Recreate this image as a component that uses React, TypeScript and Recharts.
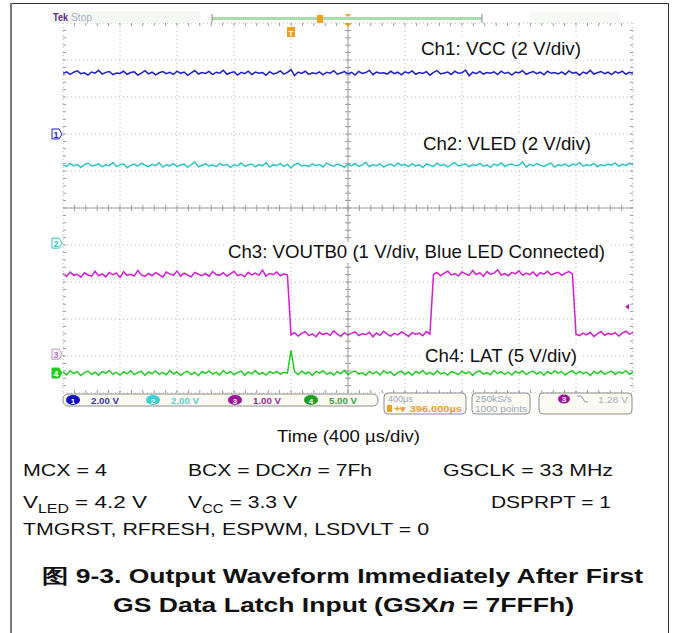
import React from "react";
import { ComposedChart, Line, Scatter, XAxis, YAxis, CartesianGrid, ReferenceLine } from "recharts";

// scope settings
const usPerDiv = 400;
const sampleStepUs = 25;
const triggerTimeUs = 1600;
const triggerLevelV = 1.28;

// Ch1: VCC, volts per sample
const ch1Volts = [
  3.28, 3.36, 3.22, 3.34, 3.41, 3.26, 3.31, 3.19, 3.35, 3.29,
  3.44, 3.24, 3.33, 3.38, 3.21, 3.30, 3.27, 3.39, 3.23, 3.32,
  3.36, 3.18, 3.29, 3.42, 3.25, 3.34, 3.20, 3.31, 3.37, 3.26,
  3.33, 3.22, 3.40, 3.28, 3.35, 3.17, 3.30, 3.43, 3.24, 3.32,
  3.27, 3.38, 3.21, 3.34, 3.29, 3.45, 3.23, 3.31, 3.36, 3.19,
  3.33, 3.26, 3.40, 3.22, 3.35, 3.28, 3.32, 3.18, 3.37, 3.25,
  3.30, 3.41, 3.24, 3.33, 3.48, 3.16, 3.35, 3.27, 3.39, 3.22,
  3.31, 3.26, 3.36, 3.20, 3.34, 3.29, 3.42, 3.23, 3.30, 3.37,
  3.25, 3.33, 3.19, 3.38, 3.27, 3.32, 3.44, 3.21, 3.35, 3.28,
  3.31, 3.24, 3.39, 3.26, 3.34, 3.20, 3.36, 3.29, 3.41, 3.23,
  3.32, 3.27, 3.37, 3.18, 3.33, 3.43, 3.25, 3.30, 3.35, 3.22,
  3.39, 3.28, 3.31, 3.46, 3.15, 3.34, 3.26, 3.38, 3.24, 3.32,
  3.29, 3.36, 3.21, 3.40, 3.27, 3.33, 3.19, 3.35, 3.30, 3.42,
  3.23, 3.31, 3.37, 3.26, 3.34, 3.20, 3.39, 3.28, 3.32, 3.25,
  3.36, 3.22, 3.41, 3.29, 3.33, 3.18, 3.35, 3.27, 3.44, 3.24,
  3.31, 3.38, 3.26, 3.34, 3.21, 3.37, 3.29, 3.40, 3.23, 3.33,
  3.28,
];

// Ch2: VLED
const ch2Volts = [
  4.22, 4.15, 4.31, 4.18, 4.26, 4.09, 4.24, 4.33, 4.17, 4.21,
  4.28, 4.12, 4.25, 4.19, 4.36, 4.14, 4.23, 4.29, 4.08, 4.20,
  4.27, 4.16, 4.32, 4.21, 4.13, 4.26, 4.19, 4.34, 4.11, 4.24,
  4.18, 4.30, 4.15, 4.22, 4.27, 4.10, 4.25, 4.38, 4.12, 4.21,
  4.29, 4.17, 4.23, 4.14, 4.31, 4.20, 4.26, 4.09, 4.24, 4.19,
  4.33, 4.16, 4.22, 4.28, 4.13, 4.25, 4.18, 4.35, 4.11, 4.23,
  4.20, 4.30, 4.15, 4.27, 4.06, 4.24, 4.32, 4.17, 4.21, 4.14,
  4.29, 4.19, 4.25, 4.12, 4.34, 4.22, 4.16, 4.28, 4.20, 4.10,
  4.26, 4.18, 4.31, 4.15, 4.23, 4.37, 4.13, 4.24, 4.19, 4.29,
  4.11, 4.22, 4.27, 4.16, 4.33, 4.20, 4.25, 4.14, 4.30, 4.18,
  4.23, 4.09, 4.28, 4.21, 4.15, 4.32, 4.19, 4.26, 4.12, 4.24,
  4.35, 4.17, 4.22, 4.29, 4.13, 4.25, 4.20, 4.31, 4.16, 4.23,
  4.10, 4.27, 4.19, 4.34, 4.14, 4.24, 4.28, 4.18, 4.21, 4.39,
  4.12, 4.26, 4.17, 4.30, 4.22, 4.15, 4.25, 4.33, 4.11, 4.23,
  4.19, 4.29, 4.14, 4.27, 4.21, 4.36, 4.16, 4.24, 4.20, 4.31,
  4.13, 4.25, 4.18, 4.28, 4.22, 4.34, 4.15, 4.26, 4.19, 4.32,
  4.23,
];

// Ch3: VOUTB0
const ch3Volts = [
  2.18, 2.10, 2.22, 2.13, 2.16, 2.08, 2.20, 2.14, 2.11, 2.24,
  2.12, 2.17, 2.09, 2.21, 2.15, 2.19, 2.07, 2.23, 2.13, 2.16,
  2.11, 2.26, 2.14, 2.10, 2.18, 2.12, 2.20, 2.15, 2.08, 2.22,
  2.17, 2.13, 2.25, 2.11, 2.19, 2.14, 2.09, 2.21, 2.16, 2.12,
  2.18, 2.10, 2.23, 2.15, 2.13, 2.20, 2.11, 2.17, 2.24, 2.12,
  2.16, 2.09, 2.21, 2.14, 2.19, 2.13, 2.27, 2.11, 2.18, 2.15,
  2.22, 2.12, 2.17, 2.14,
  0.52, 0.58, 0.49, 0.56, 0.61, 0.50, 0.55, 0.47, 0.59, 0.53,
  0.57, 0.51, 0.63, 0.54, 0.48, 0.58, 0.52, 0.56, 0.60, 0.50,
  0.55, 0.53, 0.59, 0.47, 0.57, 0.51, 0.62, 0.54, 0.49, 0.56,
  0.52, 0.60, 0.55, 0.48, 0.58, 0.53, 0.57, 0.50, 0.61, 0.54,
  2.16, 2.21, 2.12, 2.19, 2.24, 2.14, 2.18, 2.11, 2.22, 2.17,
  2.13, 2.26, 2.15, 2.20, 2.10, 2.23, 2.16, 2.19, 2.28, 2.14,
  2.18, 2.12, 2.21, 2.17, 2.25, 2.13, 2.19, 2.15, 2.22, 2.11,
  2.20, 2.16, 2.24, 2.14, 2.18, 2.21, 2.13, 2.19, 2.23, 2.17,
  0.54, 0.50, 0.57, 0.52, 0.59, 0.48, 0.55, 0.61, 0.51, 0.56,
  0.53, 0.58, 0.49, 0.57, 0.62, 0.54, 0.59,
];

// Ch4: LAT
const ch4Volts = [
  0.12, -0.25, 0.31, -0.08, 0.18, -0.34, 0.05, 0.27, -0.19, 0.10,
  -0.29, 0.22, -0.04, 0.35, -0.16, 0.08, -0.27, 0.19, -0.11, 0.30,
  -0.21, 0.03, 0.25, -0.32, 0.14, -0.07, 0.28, -0.18, 0.09, -0.24,
  0.33, -0.13, 0.16, -0.30, 0.06, 0.24, -0.20, 0.11, -0.36, 0.21,
  -0.05, 0.29, -0.15, 0.13, -0.26, 0.34, -0.09, 0.17, -0.22, 0.07,
  0.26, -0.31, 0.15, -0.12, 0.32, -0.17, 0.04, -0.28, 0.20, -0.06,
  0.23, -0.14, 0.10, -0.02, 3.05, 0.18, -0.23, 0.28, -0.10, 0.14,
  -0.33, 0.22, -0.03, 0.30, -0.19, 0.09, -0.26, 0.17, -0.08, 0.35,
  -0.21, 0.12, 0.27, -0.15, 0.05, -0.30, 0.24, -0.11, 0.19, -0.25,
  0.31, -0.06, 0.15, -0.34, 0.08, 0.26, -0.18, 0.13, -0.29, 0.21,
  -0.04, 0.33, -0.16, 0.10, -0.23, 0.29, -0.12, 0.06, -0.27, 0.18,
  0.02, -0.20, 0.25, -0.09, 0.16, -0.32, 0.11, 0.28, -0.14, 0.07,
  -0.24, 0.34, -0.07, 0.19, -0.17, 0.12, -0.28, 0.23, -0.05, 0.30,
  -0.22, 0.09, 0.26, -0.13, 0.14, -0.31, 0.20, -0.10, 0.27, -0.02,
  0.17, -0.26, 0.08, 0.32, -0.15, 0.22, -0.08, 0.13, -0.35, 0.24,
  -0.11, 0.29, -0.19, 0.06, 0.25, -0.21, 0.15, -0.04, 0.31, -0.16,
  0.10,
];

const divTicks = [0, 1, 2, 3, 4, 5, 6, 7, 8, 9, 10];
const minorDivs = [
  0.2, 0.4, 0.6, 0.8, 1, 1.2, 1.4, 1.6, 1.8, 2, 2.2, 2.4, 2.6, 2.8, 3, 3.2, 3.4, 3.6, 3.8, 4,
  4.2, 4.4, 4.6, 4.8, 5, 5.2, 5.4, 5.6, 5.8, 6, 6.2, 6.4, 6.6, 6.8, 7, 7.2, 7.4, 7.6, 7.8, 8,
  8.2, 8.4, 8.6, 8.8, 9, 9.2, 9.4, 9.6, 9.8,
];

const channels = [
  { id: 1, volts: ch1Volts, voltsPerDiv: 2, groundDiv: 7.0, color: "#1f1fc4", label: "2.00 V" },
  { id: 2, volts: ch2Volts, voltsPerDiv: 2, groundDiv: 4.05, color: "#2cc6c6", label: "2.00 V" },
  { id: 3, volts: ch3Volts, voltsPerDiv: 1, groundDiv: 1.05, color: "#d41cd4", label: "1.00 V" },
  { id: 4, volts: ch4Volts, voltsPerDiv: 5, groundDiv: 0.54, color: "#22cc22", label: "5.00 V" },
];

const toPoints = (ch) =>
  ch.volts.map((v, i) => ({ x: (i * sampleStepUs) / usPerDiv, y: ch.groundDiv + v / ch.voltsPerDiv }));

const FONT = "'Liberation Sans', Arial, sans-serif";
const tickColor = "#9a9a9a";

const tickV = (p) => <line x1={p.cx} x2={p.cx} y1={p.cy - 3} y2={p.cy + 3} stroke={tickColor} />;
const tickH = (p) => <line x1={p.cx - 3} x2={p.cx + 3} y1={p.cy} y2={p.cy} stroke={tickColor} />;
const tickDown = (p) => <line x1={p.cx} x2={p.cx} y1={p.cy} y2={p.cy + 3} stroke={tickColor} />;
const tickUp = (p) => <line x1={p.cx} x2={p.cx} y1={p.cy - 3} y2={p.cy} stroke={tickColor} />;
const tickRight = (p) => <line x1={p.cx} x2={p.cx + 3} y1={p.cy} y2={p.cy} stroke={tickColor} />;
const tickLeft = (p) => <line x1={p.cx - 3} x2={p.cx} y1={p.cy} y2={p.cy} stroke={tickColor} />;

const GroundMarker = (p) => {
  const ch = channels.find((c) => c.id === p.payload.id);
  const filled = ch.id === 4;
  const x = p.cx - 11;
  return (
    <g>
      <path
        d={`M${x},${p.cy - 5} h7 l3,5 l-3,5 h-7 z`}
        fill={filled ? ch.color : "#fff"}
        stroke={ch.id === 3 ? "#c08ac8" : ch.color}
        strokeWidth={1}
      />
      <text x={x + 4} y={p.cy + 3.5} fontSize={9} fontFamily={FONT} fontWeight="bold"
        textAnchor="middle" fill={filled ? "#fff" : ch.id === 3 ? "#b070c0" : ch.color}>
        {ch.id}
      </text>
    </g>
  );
};

const TriggerPosMarker = (p) => (
  <g>
    <rect x={p.cx - 4} y={p.cy + 4} width={8} height={10} fill="#f0a020" />
    <text x={p.cx} y={p.cy + 12.5} fontSize={8} fontFamily={FONT} fontWeight="bold" textAnchor="middle" fill="#fff">T</text>
  </g>
);

const TriggerLevelMarker = (p) => (
  <path d={`M${p.cx - 8},${p.cy} l4,-3 v6 z`} fill="#c020c0" />
);

const ChLabel = ({ x, y, w, text }) => (
  <g>
    <rect x={x - 3} y={y - 16} width={w + 6} height={21} fill="#fff" />
    <text x={x} y={y} fontSize={19} fill="#111" textLength={w} lengthAdjust="spacingAndGlyphs">{text}</text>
  </g>
);

const Readout = () => (
  <g fontFamily={FONT} fontWeight="bold" fontSize={9}>
    <rect x={63} y={394} width={315} height={12} rx={5} fill="#fbfbf3" stroke="#8a8a8a" />
    {channels.map((ch, i) => {
      const cx = [73, 153, 235, 311][i];
      return (
        <g key={ch.id}>
          <ellipse cx={cx} cy={400} rx={7} ry={5} fill={ch.id === 3 ? "#a0139f" : ch.id === 2 ? "#3cd2d2" : ch.id === 4 ? "#1f9f1f" : "#1010c0"} />
          <text x={cx} y={403.5} textAnchor="middle" fill="#fff" fontSize={8}>{ch.id}</text>
          <text x={cx + 18} y={404} fill={ch.id === 3 ? "#9a2a9a" : ch.id === 2 ? "#5ccccc" : ch.id === 4 ? "#3aa03a" : "#3434b0"}
            textLength={28} lengthAdjust="spacingAndGlyphs">{ch.label}</text>
        </g>
      );
    })}
    <rect x={384} y={393} width={82} height={21} rx={4} fill="#fbfbf3" stroke="#8a8a8a" />
    <text x={388} y={401.5} fill="#9aa6b8" fontWeight="normal">400µs</text>
    <rect x={387} y={405} width={5} height={7} fill="#f0a020" />
    <text x={394} y={412} fill="#e8a030" textLength={68} lengthAdjust="spacingAndGlyphs">+▾ 396.000µs</text>
    <rect x={472} y={393} width={58} height={21} rx={4} fill="#fbfbf3" stroke="#8a8a8a" />
    <text x={475} y={401.5} fill="#9aa6b8" fontWeight="normal" textLength={37} lengthAdjust="spacingAndGlyphs">250kS/s</text>
    <text x={475} y={411.5} fill="#9aa6b8" fontWeight="normal" textLength={52} lengthAdjust="spacingAndGlyphs">1000 points</text>
    <rect x={539} y={393} width={93} height={21} rx={4} fill="#fbfbf3" stroke="#8a8a8a" />
    <ellipse cx={564} cy={399} rx={6} ry={4.5} fill="#a0139f" />
    <text x={564} y={402} textAnchor="middle" fill="#fff" fontSize={8}>3</text>
    <path d="M577,396 h4 l4,6 h3" fill="none" stroke="#8a9ab0" strokeWidth={1} />
    <text x={598} y={402.5} fill="#a4aec0" fontWeight="normal" textLength={30} lengthAdjust="spacingAndGlyphs">1.28 V</text>
  </g>
);

const StatusBar = () => (
  <g fontFamily={FONT}>
    <rect x={50} y={11} width={150} height={12} fill="#f5f7f5" />
    <rect x={530} y={12} width={90} height={10} fill="#f6f8f6" />
    <text x={53} y={21} fontSize={10} fontWeight="bold" fill="#5a2a82" textLength={15} lengthAdjust="spacingAndGlyphs">Tek</text>
    <text x={71} y={21} fontSize={10} fill="#aab2c2" textLength={21} lengthAdjust="spacingAndGlyphs">Stop</text>
    <line x1={212} x2={482} y1={18.5} y2={18.5} stroke="#a8dca8" strokeWidth={3} />
    <line x1={212} x2={212} y1={14} y2={23} stroke="#888" />
    <line x1={482} x2={482} y1={14} y2={23} stroke="#888" />
    <rect x={317} y={15} width={6} height={8} fill="#f0a020" />
    <path d="M345,14 h6 l-3,3 z" fill="#f0a020" />
    <path d="M344,23 h8 l-4,4 z" fill="#f0a020" />
  </g>
);

const LowerText = () => (
  <g fontFamily={FONT} fill="#111">
    <text x={277} y={442} fontSize={17} textLength={143} lengthAdjust="spacingAndGlyphs">Time (400 µs/div)</text>
    <text x={23} y={476} fontSize={17} textLength={84} lengthAdjust="spacingAndGlyphs">MCX = 4</text>
    <text x={188} y={476} fontSize={17} textLength={184} lengthAdjust="spacingAndGlyphs">
      BCX = DCX<tspan fontStyle="italic">n</tspan> = 7Fh
    </text>
    <text x={443} y={476} fontSize={17} textLength={170} lengthAdjust="spacingAndGlyphs">GSCLK = 33 MHz</text>
    <text x={23} y={508} fontSize={17} textLength={124} lengthAdjust="spacingAndGlyphs">
      V<tspan fontSize={12} dy={5}>LED</tspan><tspan dy={-5}> = 4.2 V</tspan>
    </text>
    <text x={188} y={508} fontSize={17} textLength={109} lengthAdjust="spacingAndGlyphs">
      V<tspan fontSize={12} dy={5}>CC</tspan><tspan dy={-5}> = 3.3 V</tspan>
    </text>
    <text x={491} y={508} fontSize={17} textLength={120} lengthAdjust="spacingAndGlyphs">DSPRPT = 1</text>
    <text x={23} y={535} fontSize={17} textLength={406} lengthAdjust="spacingAndGlyphs">TMGRST, RFRESH, ESPWM, LSDVLT = 0</text>
    <text x={42} y={583} fontSize={20} fontWeight="bold" textLength={601} lengthAdjust="spacingAndGlyphs">
      图 9-3. Output Waveform Immediately After First
    </text>
    <text x={113} y={612} fontSize={20} fontWeight="bold" textLength={461} lengthAdjust="spacingAndGlyphs">
      GS Data Latch Input (GSX<tspan fontStyle="italic">n</tspan> = 7FFFh)
    </text>
  </g>
);

export default function App() {
  const groundMarks = channels.map((ch) => ({ x: 0, y: ch.groundDiv, id: ch.id }));
  const trigPos = [{ x: triggerTimeUs / usPerDiv, y: 10 }];
  const trigLevel = [{ x: 10, y: channels[2].groundDiv + triggerLevelV / channels[2].voltsPerDiv }];

  return (
    <div style={{ position: "absolute", left: 0, top: 0, width: 676, height: 633, background: "#fff", fontFamily: FONT }}>
      <div style={{ position: "absolute", left: 0, top: 0 }}>
        <ComposedChart width={676} height={420} margin={{ top: 23, left: 63, right: 43, bottom: 27 }}>
          <XAxis type="number" dataKey="x" domain={[0, 10]} ticks={divTicks} hide />
          <YAxis type="number" dataKey="y" domain={[0, 10]} ticks={divTicks} hide />
          <CartesianGrid
            horizontalValues={divTicks}
            verticalValues={divTicks}
            stroke="#b8b8b8"
            strokeDasharray="1 3"
          />
          <ReferenceLine x={5} stroke="#a0a0a0" />
          <ReferenceLine y={5} stroke="#a0a0a0" />
          <Scatter data={minorDivs.map((x) => ({ x, y: 5 }))} shape={tickV} isAnimationActive={false} />
          <Scatter data={minorDivs.map((y) => ({ x: 5, y }))} shape={tickH} isAnimationActive={false} />
          <Scatter data={minorDivs.map((x) => ({ x, y: 10 }))} shape={tickDown} isAnimationActive={false} />
          <Scatter data={minorDivs.map((x) => ({ x, y: 0 }))} shape={tickUp} isAnimationActive={false} />
          <Scatter data={minorDivs.map((y) => ({ x: 0, y }))} shape={tickRight} isAnimationActive={false} />
          <Scatter data={minorDivs.map((y) => ({ x: 10, y }))} shape={tickLeft} isAnimationActive={false} />
          {channels.map((ch) => (
            <Line
              key={ch.id}
              data={toPoints(ch)}
              dataKey="y"
              type="linear"
              stroke={ch.color}
              strokeWidth={1.5}
              dot={false}
              activeDot={false}
              isAnimationActive={false}
            />
          ))}
          <Scatter data={groundMarks} shape={GroundMarker} isAnimationActive={false} />
          <Scatter data={trigPos} shape={TriggerPosMarker} isAnimationActive={false} />
          <Scatter data={trigLevel} shape={TriggerLevelMarker} isAnimationActive={false} />
        </ComposedChart>
      </div>
      <svg width={676} height={633} style={{ position: "absolute", left: 0, top: 0, pointerEvents: "none" }}>
        <line x1={10} x2={668} y1={3.5} y2={3.5} stroke="#333" />
        <line x1={11} x2={11} y1={3} y2={633} stroke="#7a7a7a" strokeWidth={2} />
        <line x1={668.5} x2={668.5} y1={3} y2={633} stroke="#333" />
        <StatusBar />
        <g fontFamily={FONT}>
          <ChLabel x={421} y={55} w={160} text="Ch1: VCC (2 V/div)" />
          <ChLabel x={423} y={150} w={168} text="Ch2: VLED (2 V/div)" />
          <ChLabel x={228} y={258} w={377} text="Ch3: VOUTB0 (1 V/div, Blue LED Connected)" />
          <ChLabel x={425} y={362} w={152} text="Ch4: LAT (5 V/div)" />
        </g>
        <Readout />
        <LowerText />
      </svg>
    </div>
  );
}
